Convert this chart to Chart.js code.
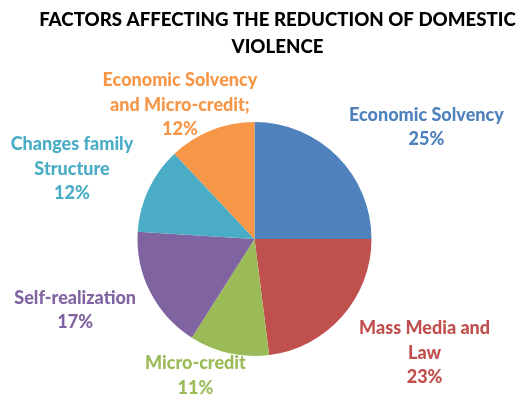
<!DOCTYPE html>
<html>
<head>
<meta charset="utf-8">
<script src="https://cdn.jsdelivr.net/npm/chart.js@4"></script>
<style>
html,body{margin:0;padding:0;background:#fff;}
#wrap{width:525px;height:395px;}
</style>
</head>
<body>
<div id="wrap"><canvas id="c" width="525" height="395"></canvas></div>
<script>
// ---- data ----
const titleLines = ['FACTORS AFFECTING THE REDUCTION OF DOMESTIC', 'VIOLENCE'];
const categories = [
  'Economic Solvency',
  'Mass Media and Law',
  'Micro-credit',
  'Self-realization',
  'Changes family Structure',
  'Economic Solvency and Micro-credit;'
];
const labelLines = [
  ['Economic Solvency'],
  ['Mass Media and', 'Law'],
  ['Micro-credit'],
  ['Self-realization'],
  ['Changes family', 'Structure'],
  ['Economic Solvency', 'and Micro-credit;']
];
const values = [25, 23, 11, 17, 12, 12];
const colors = ['#4F81BD', '#C0504D', '#9BBB59', '#8064A2', '#4BACC6', '#F79646'];

// label placement relative to each slice: angle shift (deg) and distance beyond the rim (px)
const labelPlacement = [
  {dAngle: 12, extra: 88},
  {dAngle: -7.6, extra: 87.7},
  {dAngle: 10.8, extra: 31.7},
  {dAngle: 5.3, extra: 76},
  {dAngle: -4.2, extra: 78.5},
  {dAngle: -7.5, extra: 36.3}
];

const FONT = 'Lato, "Open Sans", sans-serif';

const titlePlugin = {
  id: 'ownTitle',
  afterDraw(chart) {
    const ctx = chart.ctx;
    ctx.save();
    ctx.fillStyle = '#000';
    ctx.font = '900 18.7px ' + FONT;
    ctx.textAlign = 'center';
    ctx.textBaseline = 'middle';
    titleLines.forEach((t, i) => ctx.fillText(t, 277.5, 20 + i * 27));
    ctx.restore();
  }
};

const labelPlugin = {
  id: 'sliceLabels',
  afterDatasetsDraw(chart) {
    const ctx = chart.ctx;
    const meta = chart.getDatasetMeta(0);
    const total = values.reduce((a, b) => a + b, 0);
    ctx.save();
    ctx.font = '900 18px ' + FONT;
    ctx.textAlign = 'center';
    ctx.textBaseline = 'middle';
    meta.data.forEach((arc, i) => {
      const p = arc.getProps(['x', 'y', 'startAngle', 'endAngle', 'outerRadius'], true);
      const mid = (p.startAngle + p.endAngle) / 2 + labelPlacement[i].dAngle * Math.PI / 180;
      const d = p.outerRadius + labelPlacement[i].extra;
      const cx = p.x + Math.cos(mid) * d;
      const cy = p.y + Math.sin(mid) * d;
      const lines = labelLines[i].concat([Math.round(values[i] / total * 100) + '%']);
      const lh = 24.5;
      const y0 = cy - (lines.length - 1) * lh / 2;
      ctx.fillStyle = colors[i];
      lines.forEach((l, k) => ctx.fillText(l, cx, y0 + k * lh));
    });
    ctx.restore();
  }
};

new Chart(document.getElementById('c'), {
  type: 'pie',
  data: {
    labels: categories,
    datasets: [{
      data: values,
      backgroundColor: colors,
      borderWidth: 0
    }]
  },
  options: {
    responsive: false,
    animation: false,
    layout: { padding: { top: 122, bottom: 39, left: 0, right: 16 } },
    plugins: {
      legend: { display: false },
      title: { display: false },
      tooltip: { enabled: false }
    }
  },
  plugins: [labelPlugin, titlePlugin]
});
</script>
</body>
</html>
